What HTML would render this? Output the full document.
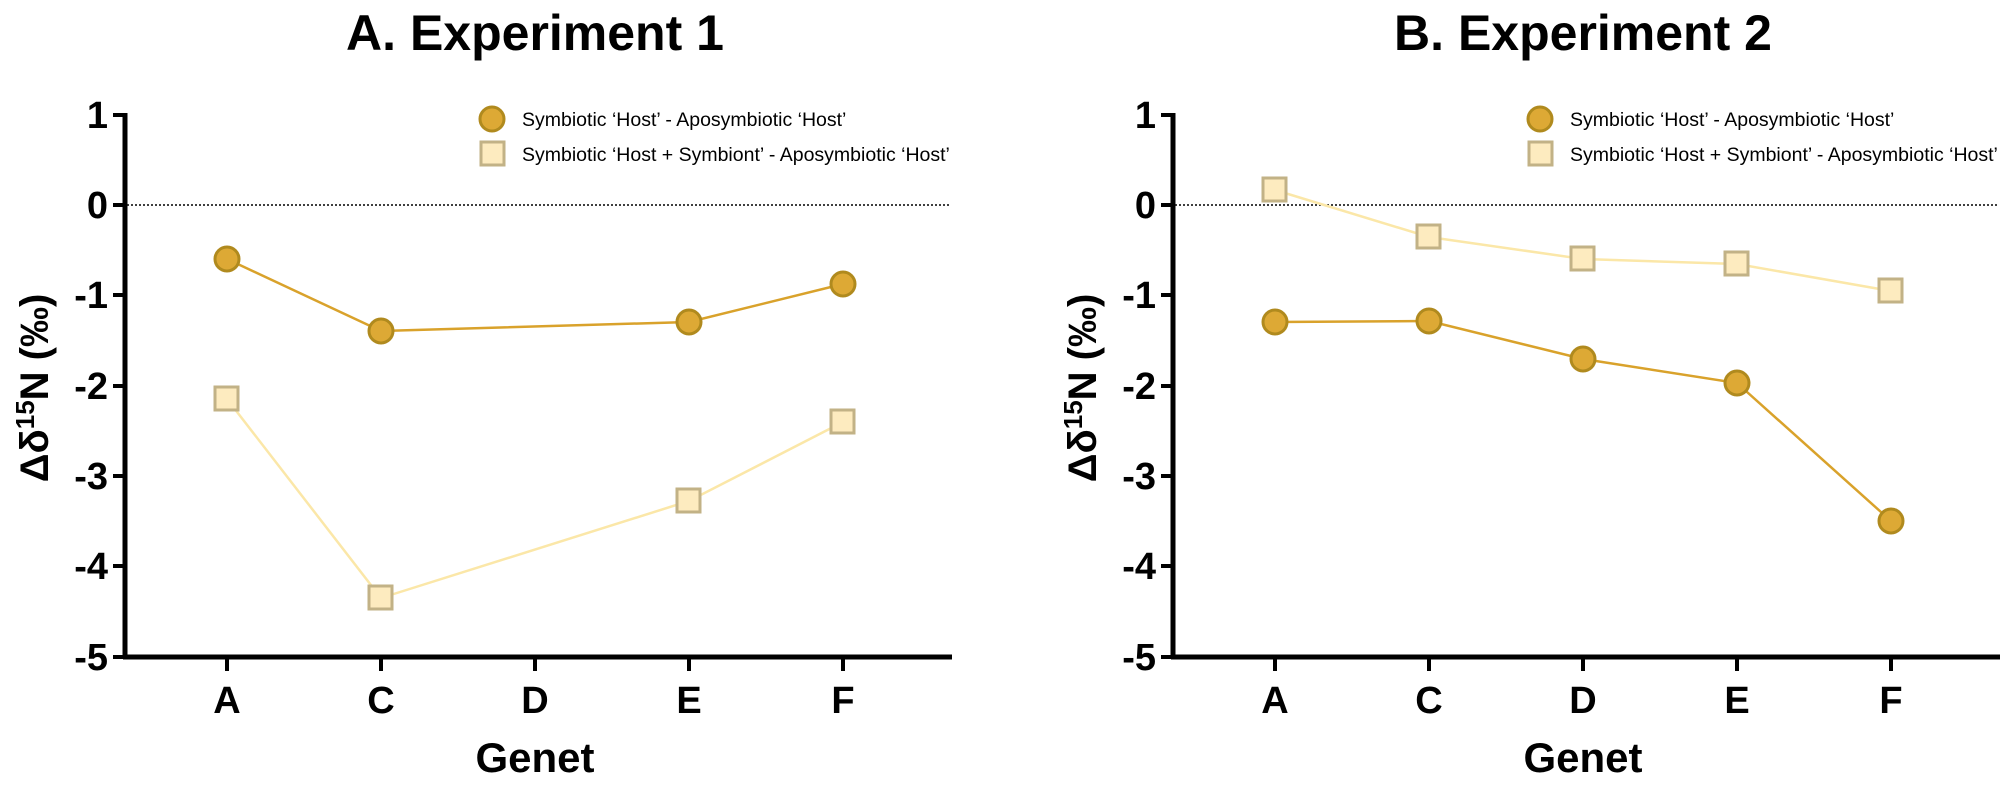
<!DOCTYPE html>
<html><head><style>body{margin:0;background:#fff}</style></head><body>
<svg width="2012" height="782" xmlns="http://www.w3.org/2000/svg" font-family="Liberation Sans, Arial, sans-serif">
<defs>
<g id="ax">
  <line x1="125" y1="113" x2="125" y2="659" stroke="#000" stroke-width="5"/>
  <line x1="123" y1="657" x2="952" y2="657" stroke="#000" stroke-width="5"/>
  <g stroke="#000" stroke-width="4">
    <line x1="113" y1="115" x2="125" y2="115"/><line x1="113" y1="205" x2="125" y2="205"/>
    <line x1="113" y1="295" x2="125" y2="295"/><line x1="113" y1="386" x2="125" y2="386"/>
    <line x1="113" y1="476" x2="125" y2="476"/><line x1="113" y1="566" x2="125" y2="566"/>
    <line x1="113" y1="657" x2="125" y2="657"/>
    <line x1="227" y1="657" x2="227" y2="671"/><line x1="381" y1="657" x2="381" y2="671"/>
    <line x1="535" y1="657" x2="535" y2="671"/><line x1="689" y1="657" x2="689" y2="671"/>
    <line x1="843" y1="657" x2="843" y2="671"/>
  </g>
  <line x1="127" y1="205" x2="950" y2="205" stroke="#000" stroke-width="1.5" stroke-dasharray="2,2"/>
  <g font-size="38" font-weight="bold" text-anchor="end">
    <text x="108" y="128">1</text><text x="108" y="218">0</text><text x="108" y="308">-1</text>
    <text x="108" y="399">-2</text><text x="108" y="489">-3</text><text x="108" y="579">-4</text>
    <text x="108" y="670">-5</text>
  </g>
  <g font-size="38" font-weight="bold" text-anchor="middle">
    <text x="227" y="713">A</text><text x="381" y="713">C</text><text x="535" y="713">D</text>
    <text x="689" y="713">E</text><text x="843" y="713">F</text>
    <text x="535" y="772" font-size="42">Genet</text>
  </g>
  <text transform="translate(48,388) rotate(-90)" font-size="40" font-weight="bold" text-anchor="middle">Δδ<tspan font-size="26" dy="-14">15</tspan><tspan dy="14">N (‰)</tspan></text>
  <circle cx="492" cy="119" r="12" fill="#DDA935" stroke="#B08A1E" stroke-width="3"/>
  <rect x="481" y="142" width="23" height="23" fill="#FDEBBF" stroke="#C2B286" stroke-width="3"/>
  <g font-size="19.5"><text x="522" y="126">Symbiotic ‘Host’ - Aposymbiotic ‘Host’</text>
  <text x="522" y="161">Symbiotic ‘Host + Symbiont’ - Aposymbiotic ‘Host’</text></g>
</g>
</defs>
<text x="535" y="50" font-size="50" font-weight="bold" text-anchor="middle">A. Experiment 1</text>
<text x="1583" y="50" font-size="50" font-weight="bold" text-anchor="middle">B. Experiment 2</text>
<use href="#ax"/>
<use href="#ax" x="1048"/>
<!-- left -->
<polyline points="227,399 381,598 689,501 843,422" fill="none" stroke="#FBE7A8" stroke-width="2.5"/>
<g fill="#FDEBBF" stroke="#C2B286" stroke-width="3">
<rect x="215" y="387" width="23" height="23"/><rect x="369" y="586" width="23" height="23"/>
<rect x="677" y="489" width="23" height="23"/><rect x="831" y="410" width="23" height="23"/></g>
<polyline points="227,259 381,331 689,322 843,284" fill="none" stroke="#D9A22B" stroke-width="2.5"/>
<g fill="#DDA935" stroke="#B08A1E" stroke-width="3">
<circle cx="227" cy="259" r="12"/><circle cx="381" cy="331" r="12"/><circle cx="689" cy="322" r="12"/><circle cx="843" cy="284" r="12"/></g>
<!-- right -->
<polyline points="1275,190 1429,237 1583,259 1737,264 1891,291" fill="none" stroke="#FBE7A8" stroke-width="2.5"/>
<g fill="#FDEBBF" stroke="#C2B286" stroke-width="3">
<rect x="1263" y="178" width="23" height="23"/><rect x="1417" y="225" width="23" height="23"/>
<rect x="1571" y="247" width="23" height="23"/><rect x="1725" y="252" width="23" height="23"/><rect x="1879" y="279" width="23" height="23"/></g>
<polyline points="1275,322 1429,321 1583,359 1737,383 1891,521" fill="none" stroke="#D9A22B" stroke-width="2.5"/>
<g fill="#DDA935" stroke="#B08A1E" stroke-width="3">
<circle cx="1275" cy="322" r="12"/><circle cx="1429" cy="321" r="12"/><circle cx="1583" cy="359" r="12"/><circle cx="1737" cy="383" r="12"/><circle cx="1891" cy="521" r="12"/></g>
</svg>
</body></html>
